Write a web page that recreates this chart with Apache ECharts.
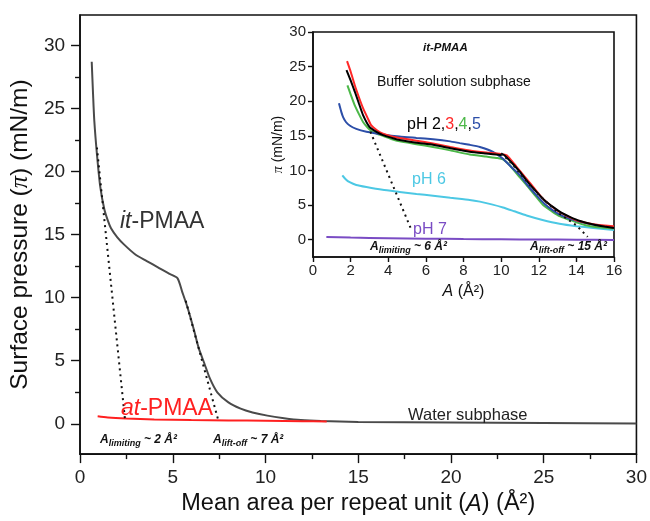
<!DOCTYPE html>
<html>
<head>
<meta charset="utf-8">
<script src="https://cdn.jsdelivr.net/npm/echarts@6/dist/echarts.min.js"></script>
<style>
html,body{margin:0;padding:0;background:#fff;}
#c{width:650px;height:521px;}
</style>
</head>
<body>
<div id="c"></div>
<script>
// ---------- Data (main panel: water subphase) ----------
const itPMAA = [[0.63,28.7],[0.7,26.2],[0.77,24.0],[0.91,21.4],[1.09,18.8],[1.31,17.0],[1.5,16.1],[1.67,15.5],[2.0,14.8],[2.38,14.2],[3.0,13.4],[3.6,12.9],[4.2,12.4],[4.8,11.9],[5.25,11.55],[5.5,10.5],[5.8,9.2],[6.15,7.4],[6.4,6.0],[6.7,4.8],[7.0,3.6],[7.4,2.5],[8.0,1.7],[8.66,1.2],[9.3,0.9],[10.1,0.65],[11.0,0.45],[11.9,0.3],[13.0,0.22],[15.0,0.15],[20.0,0.1],[25.0,0.06],[30.0,0.03]];
const atPMAA = [[0.95,0.6],[1.5,0.5],[2.5,0.42],[4.0,0.35],[6.0,0.3],[8.0,0.27],[10.0,0.24],[12.0,0.21],[13.3,0.19]];
const mainTangent1 = [[0.91,21.9],[2.42,0.4]];
const mainTangent2 = [[5.7,9.75],[7.45,0.3]];

// ---------- Data (inset: buffer subphase, it-PMAA) ----------
const pH2 = [[1.78,24.5],[2.0,23.0],[2.22,21.4],[2.45,19.6],[2.66,18.0],[3.0,16.3],[3.35,15.6],[3.72,15.1],[4.2,14.7],[4.6,14.4],[5.5,14.0],[6.38,13.7],[7.3,13.2],[8.33,12.7],[9.2,12.45],[9.93,12.25],[10.1,12.3],[10.5,11.3],[11.0,9.8],[11.4,8.4],[11.88,6.9],[12.3,5.7],[12.77,4.7],[13.2,3.9],[13.65,3.3],[14.2,2.7],[14.9,2.2],[15.5,1.9],[16.0,1.7]];
const pH3 = [[1.81,25.8],[2.0,24.3],[2.22,22.3],[2.45,20.5],[2.66,19.0],[2.9,17.6],[3.1,16.5],[3.4,15.8],[3.72,15.3],[4.2,14.9],[4.6,14.7],[5.5,14.3],[6.38,13.9],[7.3,13.4],[8.33,12.9],[9.2,12.6],[9.93,12.4],[10.3,12.2],[10.8,10.6],[11.35,8.8],[11.8,7.3],[12.23,5.9],[12.7,4.8],[13.1,4.0],[13.6,3.3],[14.0,2.8],[14.5,2.45],[14.9,2.25],[15.5,2.05],[16.0,1.95]];
const pH4 = [[1.83,22.3],[2.0,21.0],[2.22,19.4],[2.45,18.1],[2.66,17.0],[2.9,16.2],[3.1,15.7],[3.4,15.3],[3.72,15.0],[4.2,14.5],[4.6,14.2],[5.5,13.8],[6.38,13.4],[7.3,12.9],[8.33,12.3],[9.2,12.0],[9.8,11.8],[10.1,11.6],[10.46,10.75],[10.9,9.3],[11.35,7.9],[11.8,6.4],[12.23,5.0],[12.7,4.1],[13.1,3.4],[13.6,2.9],[14.0,2.5],[14.5,2.1],[15.0,1.85],[16.0,1.6]];
const pH5 = [[1.38,19.7],[1.5,18.5],[1.6,17.7],[1.75,17.0],[1.95,16.5],[2.3,16.0],[2.84,15.6],[3.72,15.2],[4.6,14.9],[5.5,14.7],[6.38,14.5],[7.3,14.2],[7.8,13.95],[8.33,13.7],[8.87,13.4],[9.57,12.7],[10.1,11.7],[10.5,10.6],[11.0,9.3],[11.4,7.9],[11.88,6.4],[12.3,5.2],[12.77,4.2],[13.2,3.5],[13.65,3.0],[14.3,2.5],[14.9,2.2],[15.5,1.95],[16.0,1.8]];
const pH6 = [[1.56,9.3],[1.75,8.7],[1.95,8.3],[2.3,7.9],[2.84,7.6],[3.7,7.2],[4.6,6.9],[5.5,6.6],[6.38,6.35],[7.3,6.05],[8.33,5.75],[8.87,5.5],[9.5,5.1],[10.1,4.65],[10.7,4.1],[11.35,3.5],[12.2,2.85],[13.1,2.3],[14.0,1.95],[14.9,1.7],[16.0,1.4]];
const pH7 = [[0.71,0.38],[2.0,0.3],[4.0,0.22],[6.0,0.15],[8.0,0.1],[10.0,0.06],[12.0,0.03],[14.0,0.0],[16.0,-0.05]];
const insetTangent1 = [[3.05,15.6],[5.25,1.3]];
const insetTangent2 = [[10.0,12.5],[10.5,11.2],[11.0,9.6],[11.5,8.0],[12.0,6.5],[12.5,5.2],[13.1,3.76],[14.0,2.07],[14.6,0.4]];

// ---------- Tick values ----------
const mainYMajor = [0,5,10,15,20,25,30];
const mainYMinor = [2.5,7.5,12.5,17.5,22.5,27.5];
const insetYTicks = [0,5,10,15,20,25,30];

const FONT = 'Liberation Sans, Arial, sans-serif';
const AX = '#111';

function line(data, color, width, xi, yi, dotted, smooth) {
  return {
    type: 'line', data: data, xAxisIndex: xi, yAxisIndex: yi,
    showSymbol: false, symbol: 'none', smooth: dotted ? false : smooth,
    lineStyle: { color: color, width: width, type: dotted ? [2, 4] : 'solid' },
    z: dotted ? 5 : 3, animation: false, silent: true
  };
}

const chart = echarts.init(document.getElementById('c'), null, { renderer: 'canvas' });

const subRich = {
  a: { fontFamily: FONT, fontSize: 12, fontWeight: 'bold', fontStyle: 'italic', fill: '#111', color: '#111' },
  s: { fontFamily: FONT, fontSize: 9, fontWeight: 'bold', fontStyle: 'italic', fill: '#111', color: '#111', padding: [7, 0, 0, 0] }
};

chart.setOption({
  backgroundColor: '#fff',
  animation: false,
  grid: [
    { left: 79, right: 13, top: 15, bottom: 58, show: true, borderColor: AX, borderWidth: 1.6, backgroundColor: 'transparent' },
    { left: 313, right: 36, top: 32, bottom: 264, show: true, borderColor: AX, borderWidth: 1.6, backgroundColor: '#fff' }
  ],
  xAxis: [
    {
      gridIndex: 0, type: 'value', min: 0, max: 30, interval: 5,
      axisLine: { show: true, onZero: false, lineStyle: { color: AX, width: 1.6 } },
      axisTick: { show: true, length: 9, lineStyle: { color: AX, width: 1.4 } },
      minorTick: { show: true, splitNumber: 2, length: 5, lineStyle: { color: AX, width: 1.4 } },
      splitLine: { show: false },
      axisLabel: { fontFamily: FONT, fontSize: 19, color: '#222', margin: 14 },
      name: 'Mean area per repeat unit ({i|A}) (Å²)',
      nameLocation: 'middle', nameGap: 37,
      nameTextStyle: { fontFamily: FONT, fontSize: 23.5, color: '#111',
        rich: { i: { fontFamily: FONT, fontSize: 23.5, fontStyle: 'italic', color: '#111' } } }
    },
    {
      gridIndex: 1, type: 'value', min: 0, max: 16, interval: 2,
      axisLine: { show: true, onZero: false, lineStyle: { color: AX, width: 1.6 } },
      axisTick: { show: true, length: 5, lineStyle: { color: AX, width: 1.4 } },
      splitLine: { show: false },
      axisLabel: { fontFamily: FONT, fontSize: 15, color: '#222', margin: 6 },
      name: '{i|A} (Å²)',
      nameLocation: 'middle', nameGap: 27,
      nameTextStyle: { fontFamily: FONT, fontSize: 16, color: '#111',
        rich: { i: { fontFamily: FONT, fontSize: 16, fontStyle: 'italic', color: '#111' } } }
    }
  ],
  yAxis: [
    {
      gridIndex: 0, type: 'value', min: -2.4, max: 32.4,
      axisLine: { show: true, onZero: false, lineStyle: { color: AX, width: 1.6 } },
      axisTick: { show: true, length: 9, customValues: mainYMajor, lineStyle: { color: AX, width: 1.4 } },
      splitLine: { show: false },
      axisLabel: { fontFamily: FONT, fontSize: 19, color: '#222', margin: 15, customValues: mainYMajor },
      name: 'Surface pressure ({p|π}) (mN/m)',
      nameLocation: 'middle', nameRotate: 90, nameGap: 46,
      nameTextStyle: { fontFamily: FONT, fontSize: 24.5, color: '#111',
        rich: { p: { fontFamily: 'Liberation Serif, serif', fontSize: 24.5, fontStyle: 'italic', color: '#111' } } }
    },
    {
      gridIndex: 0, type: 'value', min: -2.4, max: 32.4, position: 'left', offset: 0,
      axisLine: { show: false },
      axisTick: { show: true, length: 5, customValues: mainYMinor, lineStyle: { color: AX, width: 1.4 } },
      splitLine: { show: false },
      axisLabel: { show: false }
    },
    {
      gridIndex: 1, type: 'value', min: -2.5, max: 30,
      axisLine: { show: true, onZero: false, lineStyle: { color: AX, width: 1.6 } },
      axisTick: { show: true, length: 5, customValues: insetYTicks, lineStyle: { color: AX, width: 1.4 } },
      splitLine: { show: false },
      axisLabel: { fontFamily: FONT, fontSize: 15, color: '#222', margin: 7, customValues: insetYTicks },
      name: '{p|π} (mN/m)',
      nameLocation: 'middle', nameRotate: 90, nameGap: 28,
      nameTextStyle: { fontFamily: FONT, fontSize: 14, color: '#111',
        rich: { p: { fontFamily: 'Liberation Serif, serif', fontSize: 14, fontStyle: 'italic', color: '#111' } } }
    }
  ],
  series: [
    line(itPMAA, '#4a4a4a', 2, 0, 0, false, 0.25),
    line(atPMAA, '#ff2020', 2, 0, 0, false, 0.3),
    line(mainTangent1, '#111', 2, 0, 0, true),
    line(mainTangent2, '#111', 2, 0, 0, true),
    line(pH6, '#4cc8e4', 2, 1, 2, false, 0.15),
    line(pH7, '#7a4cc4', 2, 1, 2, false, 0.15),
    line(pH4, '#4cb848', 2, 1, 2, false, 0.15),
    line(pH5, '#2c4ea8', 2, 1, 2, false, 0.15),
    line(pH3, '#ff2828', 2, 1, 2, false, 0.15),
    line(pH2, '#000000', 2, 1, 2, false, 0.15),
    line(insetTangent1, '#111', 2, 1, 2, true),
    line(insetTangent2, '#111', 2, 1, 2, true)
  ],
  graphic: [
    { type: 'text', x: 120, y: 222, z: 100, style: { text: '{i|it}-PMAA', fontFamily: FONT, fontSize: 23, fill: '#333', textVerticalAlign: 'middle',
        rich: { i: { fontFamily: FONT, fontSize: 23, fontStyle: 'italic', fill: '#333' } } } },
    { type: 'text', x: 121, y: 409, z: 100, style: { text: '{i|at}-PMAA', fontFamily: FONT, fontSize: 23, fill: '#ff2020', textVerticalAlign: 'middle',
        rich: { i: { fontFamily: FONT, fontSize: 23, fontStyle: 'italic', fill: '#ff2020' } } } },
    { type: 'text', x: 100, y: 440, z: 100, style: { text: '{a|A}{s|limiting}{a| ~ 2 Å²}', textVerticalAlign: 'middle', rich: subRich } },
    { type: 'text', x: 213, y: 440, z: 100, style: { text: '{a|A}{s|lift-off}{a| ~ 7 Å²}', textVerticalAlign: 'middle', rich: subRich } },
    { type: 'text', x: 408, y: 415, z: 100, style: { text: 'Water subphase', fontFamily: FONT, fontSize: 16.5, fill: '#222', textVerticalAlign: 'middle' } },
    { type: 'text', x: 423, y: 48, z: 100, style: { text: 'it-PMAA', fontFamily: FONT, fontSize: 11.5, fontWeight: 'bold', fontStyle: 'italic', fill: '#111', textVerticalAlign: 'middle' } },
    { type: 'text', x: 377, y: 82, z: 100, style: { text: 'Buffer solution subphase', fontFamily: FONT, fontSize: 14, fill: '#111', textVerticalAlign: 'middle' } },
    { type: 'text', x: 407, y: 125, z: 100, style: { text: '{k|pH 2,}{r|3}{k|,}{g|4}{k|,}{b|5}', textVerticalAlign: 'middle',
        rich: {
          k: { fontFamily: FONT, fontSize: 16, fill: '#000', color: '#000' },
          r: { fontFamily: FONT, fontSize: 16, fill: '#ff2828', color: '#ff2828' },
          g: { fontFamily: FONT, fontSize: 16, fill: '#4cb848', color: '#4cb848' },
          b: { fontFamily: FONT, fontSize: 16, fill: '#2c4ea8', color: '#2c4ea8' }
        } } },
    { type: 'text', x: 412, y: 180, z: 100, style: { text: 'pH 6', fontFamily: FONT, fontSize: 16, fill: '#4cc8e4', textVerticalAlign: 'middle' } },
    { type: 'text', x: 413, y: 230, z: 100, style: { text: 'pH 7', fontFamily: FONT, fontSize: 16, fill: '#7a4cc4', textVerticalAlign: 'middle' } },
    { type: 'text', x: 370, y: 247, z: 100, style: { text: '{a|A}{s|limiting}{a| ~ 6 Å²}', textVerticalAlign: 'middle', rich: subRich } },
    { type: 'text', x: 530, y: 247, z: 100, style: { text: '{a|A}{s|lift-off}{a| ~ 15 Å²}', textVerticalAlign: 'middle', rich: subRich } }
  ]
});
</script>
</body>
</html>
